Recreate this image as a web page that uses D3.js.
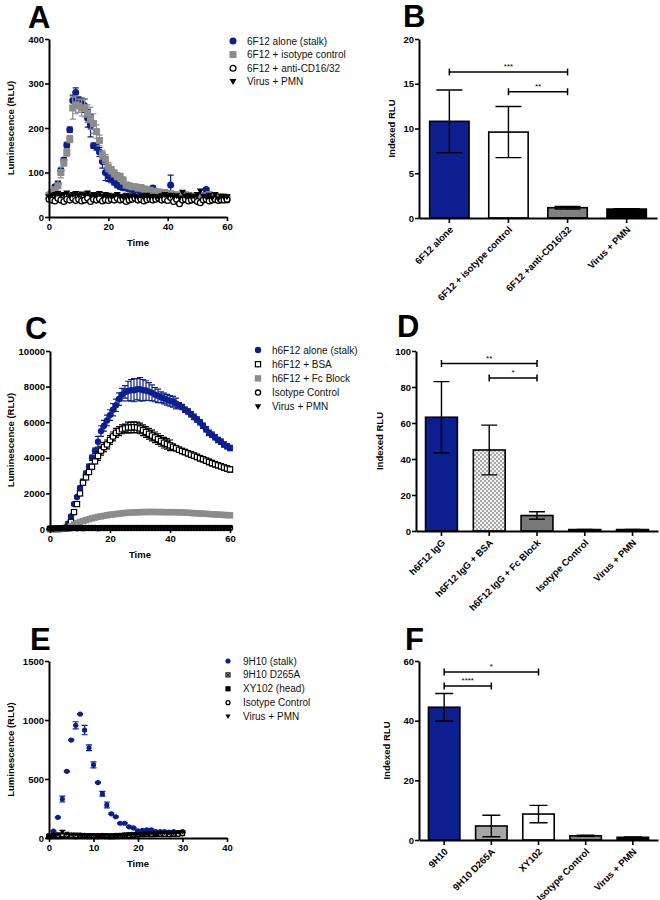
<!DOCTYPE html>
<html>
<head>
<meta charset="utf-8">
<script src="https://cdn.jsdelivr.net/npm/d3@7"></script>
<style>
  body { margin: 0; background: #fff; }
  svg text { font-family: "Liberation Sans", Arial, Helvetica, sans-serif; }
</style>
</head>
<body>
<svg id="fig" width="660" height="900"></svg>
<script>
// ---- panel A : luminescence time course ----
var timeA = d3.range(0, 61);
var a6F12 = [50,55,68,75,105,128,162,196,262,280,262,255,250,222,205,160,158,146,125,100,92,85,78,72,68,66,65,63,62,60,62,60,58,60,57,65,58,55,52,50,52,72,50,48,45,38,40,42,45,43,46,44,48,62,50,45,42,40,38,40,38];
var a6F12Err = [4,4,4,5,5,5,6,6,12,10,8,12,15,20,25,6,8,10,15,18,12,8,6,6,5,5,5,5,5,5,5,5,5,5,5,5,5,5,5,5,5,22,5,5,5,5,5,5,5,5,5,5,5,4,5,5,5,5,5,5,5];
var aIsotype = [48,55,60,70,100,122,145,175,245,252,250,245,245,232,222,210,192,172,140,130,112,105,98,92,90,82,72,70,68,68,65,66,63,62,60,58,57,56,55,55,53,52,50,50,48,48,50,48,47,46,48,45,47,46,50,48,46,45,44,45,44];
var aIsotypeErr = [5,6,8,12,12,8,8,8,25,20,15,18,20,20,25,22,15,12,10,10,10,8,8,8,8,8,6,6,6,6,6,6,6,6,6,6,6,6,6,6,6,6,6,6,6,6,6,6,6,6,6,6,6,6,6,6,6,6,6,6,6];
var aCD16 = [40,38,36,42,38,35,40,38,42,37,40,36,38,42,35,40,38,41,36,39,37,40,38,42,38,40,35,38,40,42,38,40,36,39,41,38,40,42,38,40,37,44,35,40,30,38,40,36,38,40,35,32,38,40,36,38,40,37,39,38,40];
var aPMN = [45,48,50,52,48,50,53,47,50,52,48,51,49,53,47,50,48,52,46,50,48,45,47,50,46,44,48,45,47,46,44,47,45,48,44,46,45,43,47,50,46,48,44,47,42,55,46,48,44,46,50,58,46,44,48,42,50,40,46,44,45];
var aXTicks = [0, 20, 40, 60];
var aYTicks = [0, 100, 200, 300, 400];

// ---- panel B ----
var bCats = ["6F12 alone", "6F12 + isotype control", "6F12 +anti-CD16/32", "Virus + PMN"];
var bVals = [10.8, 9.6, 1.15, 1.0];
var bErr = [3.5, 2.85, 0.15, 0.05];
var bYTicks = [0, 5, 10, 15, 20];
var bSig = [{from: 0, to: 2, y: 16.3, label: "***"}, {from: 1, to: 2, y: 14.1, label: "**"}];

// ---- panel C ----
var timeC = d3.range(0, 61);
var cAlone = [20,15,20,25,40,90,300,700,1400,1800,2300,2650,3100,3500,4000,4400,4900,5500,5800,6100,6400,6700,6950,7300,7550,7700,7750,7800,7800,7850,7850,7800,7780,7720,7650,7550,7480,7400,7330,7260,7200,7150,7050,6950,6850,6700,6600,6450,6300,6150,6000,5800,5600,5400,5300,5150,5000,4900,4750,4650,4550];
var cAloneErr = [20,20,20,20,20,20,80,80,80,80,80,150,150,150,150,150,300,300,300,300,300,350,350,350,350,350,550,600,650,600,650,600,550,500,450,400,380,300,300,300,300,300,300,150,150,150,150,150,150,150,150,150,150,150,150,150,150,150,150,150,150];
var cBSA = [0,0,0,0,10,20,80,400,950,1400,2000,2600,2900,3200,3500,3800,4100,4400,4600,4750,5000,5200,5400,5500,5600,5650,5700,5700,5720,5700,5650,5550,5450,5350,5250,5150,5050,4950,4850,4780,4700,4620,4540,4450,4380,4320,4250,4180,4120,4050,3980,3920,3840,3770,3700,3640,3580,3520,3460,3400,3350];
var cBSAErr = [60,60,60,60,60,60,60,60,60,60,60,60,60,60,60,60,250,250,250,250,250,250,250,250,250,250,300,300,300,300,300,300,300,300,300,300,300,300,300,300,300,150,150,150,150,150,150,150,150,150,150,150,150,150,150,150,150,150,150,150,150];
var cFcBlock = [0,0,0,0,10,20,50,150,250,330,400,450,500,550,600,640,680,710,740,770,800,820,840,860,880,900,910,920,930,940,950,950,955,955,960,955,950,955,950,945,950,945,940,935,930,920,910,900,890,880,870,860,850,840,830,820,810,800,790,780,770];
var cIsotype = [30,35,40,38,42,45,40,48,50,45,52,48,50,55,52,50,48,55,52,50,55,58,52,55,50,53,55,58,52,55,50,53,56,52,55,50,54,52,55,50,53,51,55,52,50,54,52,55,50,53,51,55,52,50,53,51,54,52,50,53,52];
var cPMN = [20,25,30,28,32,35,38,40,42,40,45,42,44,46,45,48,46,50,48,52,50,48,52,50,54,52,50,53,55,52,54,50,53,56,52,55,53,50,54,52,55,53,51,54,52,56,53,55,52,54,56,53,55,52,54,56,53,55,54,56,55];
var cXTicks = [0, 20, 40, 60];
var cYTicks = [0, 2000, 4000, 6000, 8000, 10000];

// ---- panel D ----
var dCats = ["h6F12 IgG", "h6F12 IgG + BSA", "h6F12 IgG + Fc Block", "Isotype Control", "Virus + PMN"];
var dVals = [63.2, 45, 8.6, 0.8, 0.8];
var dErr = [19.8, 13.8, 2.1, 0.1, 0.1];
var dYTicks = [0, 20, 40, 60, 80, 100];
var dSig = [{from: 0, to: 2, y: 93, label: "**"}, {from: 1, to: 2, y: 85, label: "*"}];

// ---- panel E ----
var timeE = d3.range(0, 31);
var e9H10 = [20,58,175,330,565,830,955,1050,915,765,620,470,375,280,205,180,125,125,95,85,60,65,70,70,55,55,55,50,55,45,55];
var e9H10Err = [5,5,5,25,5,5,30,5,40,25,25,5,20,25,5,5,5,5,5,5,5,5,5,5,5,5,5,5,5,5,5];
var eD265A = [15,20,25,22,20,18,20,22,18,20,15,18,20,16,18,20,22,25,28,30,32,35,38,35,38,40,36,38,40,42,45];
var eXY102 = [10,15,12,18,15,14,12,15,13,12,14,12,15,12,10,12,15,18,20,22,25,28,30,28,30,32,30,34,32,35,38];
var eIsotype = [20,25,22,28,25,22,20,24,22,20,18,20,22,20,18,22,20,24,22,25,28,30,32,30,35,32,30,28,32,30,35];
var ePMN = [15,25,30,50,35,30,28,25,22,20,22,18,20,22,18,20,22,25,28,30,32,30,35,38,35,40,42,38,40,45,48];
var ePMNErr = [3,3,3,15,3,3,3,3,3,3,3,3,3,3,3,3,3,3,3,3,3,3,3,3,3,3,3,3,3,3,3];
var eXTicks = [0, 10, 20, 30, 40];
var eYTicks = [0, 500, 1000, 1500];

// ---- panel F ----
var fCats = ["9H10", "9H10 D265A", "XY102", "Isotype Control", "Virus + PMN"];
var fVals = [44.5, 4.7, 8.7, 1.4, 0.9];
var fErr = [4.6, 3.6, 2.9, 0.2, 0.1];
var fYTicks = [0, 20, 40, 60];
var fSig = [{from: 0, to: 2, y: 56.3, label: "*"}, {from: 0, to: 1, y: 51.6, label: "****"}];

var BLUE = "#0d1f8e";
var GRAY = "#8c8c8c";
var svg = d3.select("#fig");

var defs = svg.append("defs");
var pat = defs.append("pattern").attr("id", "checker").attr("patternUnits", "userSpaceOnUse")
  .attr("width", 4).attr("height", 4);
pat.append("rect").attr("width", 4).attr("height", 4).attr("fill", "#f2f2f2");
pat.append("rect").attr("width", 2).attr("height", 2).attr("fill", "#a8a8a8");
pat.append("rect").attr("x", 2).attr("y", 2).attr("width", 2).attr("height", 2).attr("fill", "#a8a8a8");

function marker(g, kind, cx, cy, s, color) {
  var h = s / 2;
  if (kind === "dot") {
    g.append("circle").attr("cx", cx).attr("cy", cy).attr("r", h).attr("fill", color);
  } else if (kind === "ocirc") {
    g.append("circle").attr("cx", cx).attr("cy", cy).attr("r", h - 0.6)
      .attr("fill", "#fff").attr("stroke", "#000").attr("stroke-width", 1.3);
  } else if (kind === "sq") {
    g.append("rect").attr("x", cx - h).attr("y", cy - h).attr("width", s).attr("height", s).attr("fill", color);
  } else if (kind === "osq") {
    g.append("rect").attr("x", cx - h + 0.6).attr("y", cy - h + 0.6).attr("width", s - 1.2).attr("height", s - 1.2)
      .attr("fill", "#fff").attr("stroke", "#000").attr("stroke-width", 1.2);
  } else if (kind === "tri") {
    g.append("path").attr("d", "M" + (cx - h) + "," + (cy - h * 0.8) + "L" + (cx + h) + "," + (cy - h * 0.8) +
      "L" + cx + "," + (cy + h * 0.9) + "Z").attr("fill", color);
  } else if (kind === "xsq") {
    g.append("rect").attr("x", cx - h + 0.5).attr("y", cy - h + 0.5).attr("width", s - 1).attr("height", s - 1)
      .attr("fill", "#bbb").attr("stroke", "#111").attr("stroke-width", 1);
    g.append("path").attr("d", "M" + (cx - h + 1) + "," + (cy - h + 1) + "L" + (cx + h - 1) + "," + (cy + h - 1) +
      "M" + (cx + h - 1) + "," + (cy - h + 1) + "L" + (cx - h + 1) + "," + (cy + h - 1))
      .attr("stroke", "#111").attr("stroke-width", 1);
  }
}

function styleAxis(ax) {
  ax.select(".domain").attr("stroke", "#000").attr("stroke-width", 2);
  ax.selectAll(".tick line").attr("stroke", "#000").attr("stroke-width", 1.6);
  ax.selectAll(".tick text").attr("fill", "#000").style("font-size", "9.5px").style("font-weight", "bold");
}

function panelLetter(t, x, y) {
  svg.append("text").attr("x", x).attr("y", y).text(t)
    .style("font-size", "31px").style("font-weight", "bold");
}

function yTitle(t, x, yc) {
  svg.append("text").attr("transform", "translate(" + x + "," + yc + ") rotate(-90)")
    .attr("text-anchor", "middle").attr("dy", "0.35em").text(t)
    .style("font-size", "9.5px").style("font-weight", "bold");
}

function scatterPanel(p) {
  var x = d3.scaleLinear().domain(p.xDomain).range([p.left, p.right]);
  var y = d3.scaleLinear().domain(p.yDomain).range([p.bottom, p.top]);
  var g = svg.append("g");

  // series drawn in listed order, later ones on top
  p.series.forEach(function (s) {
    var sg = g.append("g");
    if (s.err) {
      s.values.forEach(function (v, i) {
        var e = s.err[i];
        if (!e) return;
        var cx = x(s.time[i]), y1 = y(v + e), y0 = y(Math.max(v - e, 0));
        sg.append("path").attr("d", "M" + cx + "," + y0 + "V" + y1 + "M" + (cx - 3) + "," + y1 + "H" + (cx + 3) +
          "M" + (cx - 3) + "," + y0 + "H" + (cx + 3))
          .attr("stroke", s.color).attr("stroke-width", 1.2).attr("fill", "none");
      });
    }
    s.values.forEach(function (v, i) {
      marker(sg, s.kind, x(s.time[i]), y(v), p.size, s.color);
    });
  });

  var ax = g.append("g").attr("transform", "translate(0," + p.bottom + ")")
    .call(d3.axisBottom(x).tickValues(p.xTicks).tickSize(4).tickSizeOuter(0).tickPadding(2).tickFormat(d3.format("d")));
  styleAxis(ax);
  var ay = g.append("g").attr("transform", "translate(" + p.left + ",0)")
    .call(d3.axisLeft(y).tickValues(p.yTicks).tickSize(4).tickSizeOuter(0).tickPadding(1).tickFormat(d3.format("d")));
  styleAxis(ay);

  svg.append("text").attr("x", (p.left + p.right) / 2).attr("y", p.bottom + 29).attr("text-anchor", "middle")
    .text("Time").style("font-size", "9.5px").style("font-weight", "bold");
  yTitle("Luminescence (RLU)", p.yTitleX, (p.top + p.bottom) / 2);
  panelLetter(p.letter, p.letterX, p.letterY);

  // legend
  p.series.forEach(function (s, i) {
    var ly = p.legendY + i * p.legendStep;
    marker(g, s.kind, p.legendX, ly, p.size, s.color);
    g.append("text").attr("x", p.legendX + p.legendGap).attr("y", ly).attr("dy", "0.35em")
      .text(s.name).style("font-size", "10px").attr("fill", "#111");
  });
}

function barPanel(p) {
  var x = d3.scaleBand().domain(p.cats).range([p.left, p.right]).paddingInner(1 / 3).paddingOuter(p.outer);
  var y = d3.scaleLinear().domain(p.yDomain).range([p.bottom, p.top]);
  var g = svg.append("g");

  g.selectAll("rect.bar").data(p.cats).join("rect").attr("class", "bar")
    .attr("x", function (d) { return x(d); })
    .attr("y", function (d, i) { return y(p.vals[i]); })
    .attr("width", x.bandwidth())
    .attr("height", function (d, i) { return p.bottom - y(p.vals[i]); })
    .attr("fill", function (d, i) { return p.fills[i]; })
    .attr("stroke", "#000").attr("stroke-width", 1.6);

  p.cats.forEach(function (c, i) {
    var cx = x(c) + x.bandwidth() / 2, w = p.cap / 2;
    var y1 = y(p.vals[i] + p.err[i]), y0 = y(p.vals[i] - p.err[i]);
    g.append("path").attr("d", "M" + cx + "," + y0 + "V" + y1 + "M" + (cx - w) + "," + y1 + "H" + (cx + w) +
      "M" + (cx - w) + "," + y0 + "H" + (cx + w))
      .attr("stroke", "#000").attr("stroke-width", 1.4).attr("fill", "none");
  });

  var ax = g.append("g").attr("transform", "translate(0," + p.bottom + ")")
    .call(d3.axisBottom(x).tickSize(5).tickSizeOuter(0));
  styleAxis(ax);
  ax.selectAll(".tick text").attr("x", 0).attr("y", 0).attr("dy", "0.35em")
    .attr("transform", "translate(2,10) rotate(-45)").style("text-anchor", "end");
  var ay = g.append("g").attr("transform", "translate(" + p.left + ",0)")
    .call(d3.axisLeft(y).tickValues(p.yTicks).tickSize(4).tickSizeOuter(0).tickPadding(1));
  styleAxis(ay);

  p.sig.forEach(function (s) {
    var x0 = x(p.cats[s.from]) + x.bandwidth() / 2, x1 = x(p.cats[s.to]) + x.bandwidth() / 2, yy = y(s.y);
    g.append("path").attr("d", "M" + x0 + "," + yy + "H" + x1 + "M" + x0 + "," + (yy - 3.5) + "V" + (yy + 3.5) +
      "M" + x1 + "," + (yy - 3.5) + "V" + (yy + 3.5))
      .attr("stroke", "#000").attr("stroke-width", 1.5).attr("fill", "none");
    g.append("text").attr("x", (x0 + x1) / 2).attr("y", yy - 3).attr("text-anchor", "middle")
      .text(s.label).style("font-size", "8px");
  });

  yTitle(p.yTitle, p.yTitleX, (p.top + p.bottom) / 2);
  panelLetter(p.letter, p.letterX, p.letterY);
}

scatterPanel({
  letter: "A", letterX: 28, letterY: 28,
  left: 49, right: 227, top: 39, bottom: 217,
  xDomain: [0, 60], yDomain: [0, 400], xTicks: aXTicks, yTicks: aYTicks,
  yTitleX: 11, size: 7,
  legendX: 233, legendY: 41, legendStep: 13.6, legendGap: 14,
  series: [
    {name: "6F12 alone (stalk)", kind: "dot", color: BLUE, time: timeA, values: a6F12, err: a6F12Err},
    {name: "6F12 + isotype control", kind: "sq", color: GRAY, time: timeA, values: aIsotype, err: aIsotypeErr},
    {name: "6F12 + anti-CD16/32", kind: "ocirc", color: "#000", time: timeA, values: aCD16},
    {name: "Virus + PMN", kind: "tri", color: "#000", time: timeA, values: aPMN}
  ]
});

barPanel({
  letter: "B", letterX: 403, letterY: 27,
  left: 419, right: 657, top: 39, bottom: 218, outer: 0.18,
  cats: bCats, vals: bVals, err: bErr, sig: bSig,
  fills: [BLUE, "#fff", "#808080", "#000"], cap: 26,
  yDomain: [0, 20], yTicks: bYTicks, yTitle: "Indexed RLU", yTitleX: 392
});

scatterPanel({
  letter: "C", letterX: 25, letterY: 339,
  left: 50, right: 230, top: 351, bottom: 529,
  xDomain: [0, 60], yDomain: [0, 10000], xTicks: cXTicks, yTicks: cYTicks,
  yTitleX: 11, size: 6.4,
  legendX: 258, legendY: 350, legendStep: 14.2, legendGap: 14,
  series: [
    {name: "h6F12 alone (stalk)", kind: "dot", color: BLUE, time: timeC, values: cAlone, err: cAloneErr},
    {name: "h6F12 + BSA", kind: "osq", color: "#000", time: timeC, values: cBSA, err: cBSAErr},
    {name: "h6F12 + Fc Block", kind: "sq", color: GRAY, time: timeC, values: cFcBlock},
    {name: "Isotype Control", kind: "ocirc", color: "#000", time: timeC, values: cIsotype},
    {name: "Virus + PMN", kind: "tri", color: "#000", time: timeC, values: cPMN}
  ]
});

barPanel({
  letter: "D", letterX: 397, letterY: 337,
  left: 416, right: 658, top: 351, bottom: 531, outer: 0.2,
  cats: dCats, vals: dVals, err: dErr, sig: dSig,
  fills: [BLUE, "url(#checker)", "#787878", "#000", "#000"], cap: 16,
  yDomain: [0, 100], yTicks: dYTicks, yTitle: "Indexed  RLU", yTitleX: 380
});

scatterPanel({
  letter: "E", letterX: 30, letterY: 650,
  left: 49, right: 227, top: 661, bottom: 838,
  xDomain: [0, 40], yDomain: [0, 1500], xTicks: eXTicks, yTicks: eYTicks,
  yTitleX: 11, size: 5.2,
  legendX: 228, legendY: 661, legendStep: 13.9, legendGap: 15,
  series: [
    {name: "9H10 (stalk)", kind: "dot", color: BLUE, time: timeE, values: e9H10, err: e9H10Err},
    {name: "9H10 D265A", kind: "xsq", color: "#222", time: timeE, values: eD265A},
    {name: "XY102 (head)", kind: "sq", color: "#000", time: timeE, values: eXY102},
    {name: "Isotype Control", kind: "ocirc", color: "#000", time: timeE, values: eIsotype},
    {name: "Virus + PMN", kind: "tri", color: "#000", time: timeE, values: ePMN, err: ePMNErr}
  ]
});

barPanel({
  letter: "F", letterX: 405, letterY: 650,
  left: 419, right: 658, top: 661, bottom: 840, outer: 0.2,
  cats: fCats, vals: fVals, err: fErr, sig: fSig,
  fills: [BLUE, "#a6a6a6", "#fff", "#808080", "#000"], cap: 18,
  yDomain: [0, 60], yTicks: fYTicks, yTitle: "Indexed RLU", yTitleX: 387
});
</script>
</body>
</html>
